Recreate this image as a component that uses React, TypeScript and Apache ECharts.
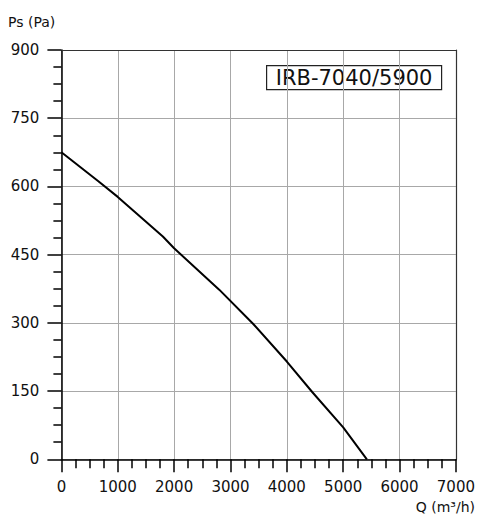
import React, { useEffect, useRef } from "react";
import * as echarts from "echarts";

const flowQ = [0, 650, 1000, 1800, 2000, 2800, 3400, 4000, 4450, 5000, 5420];
const pressurePs = [675, 612, 577, 490, 464, 373, 298, 215, 148, 70, 0];
const modelName = "IRB-7040/5900";
const xAxisTitle = "Q (m³/h)";
const yAxisTitle = "Ps (Pa)";

const FONT = "DejaVu Sans";

export default function App() {
  const ref = useRef<HTMLDivElement>(null);
  useEffect(() => {
    if (!ref.current) return;
    const chart = echarts.init(ref.current, null, { renderer: "svg" });
    const data = flowQ.map((q, i) => [q, pressurePs[i]]);
    chart.setOption({
      animation: false,
      backgroundColor: "#fff",
      grid: { left: 61.4, right: 22, top: 50, bottom: 59.7 },
      xAxis: [
        {
          type: "value",
          min: 0,
          max: 7000,
          interval: 1000,
          axisLine: { show: true, onZero: false, lineStyle: { color: "#000", width: 1.5 } },
          axisTick: { show: true, length: 13, inside: false, lineStyle: { color: "#000", width: 1.5 } },
          minorTick: { show: true, splitNumber: 4, length: 9, lineStyle: { color: "#000", width: 1.5 } },
          splitLine: { show: true, lineStyle: { color: "#a8a8a8", width: 1 } },
          axisLabel: {
            color: "#111",
            fontFamily: FONT,
            fontSize: 15,
            margin: 20,
            formatter: (v: number) => String(v),
          },
        },
        {
          type: "value",
          position: "top",
          min: 0,
          max: 7000,
          interval: 1000,
          axisLine: { show: true, onZero: false, lineStyle: { color: "#333", width: 1.2 } },
          axisTick: { show: false },
          axisLabel: { show: false },
          splitLine: { show: false },
        },
      ],
      yAxis: [
        {
          type: "value",
          min: 0,
          max: 900,
          interval: 150,
          axisLine: { show: true, onZero: false, lineStyle: { color: "#000", width: 1.5 } },
          axisTick: { show: true, length: 14, inside: false, lineStyle: { color: "#000", width: 1.5 } },
          minorTick: { show: true, splitNumber: 4, length: 8, lineStyle: { color: "#000", width: 1.5 } },
          splitLine: { show: true, lineStyle: { color: "#a8a8a8", width: 1 } },
          axisLabel: {
            color: "#111",
            fontFamily: FONT,
            fontSize: 15,
            margin: 22,
            formatter: (v: number) => String(v),
          },
        },
        {
          type: "value",
          position: "right",
          min: 0,
          max: 900,
          interval: 150,
          axisLine: { show: true, onZero: false, lineStyle: { color: "#333", width: 1.2 } },
          axisTick: { show: false },
          axisLabel: { show: false },
          splitLine: { show: false },
        },
      ],
      series: [
        {
          type: "line",
          data,
          xAxisIndex: 0,
          yAxisIndex: 0,
          showSymbol: false,
          symbol: "none",
          smooth: false,
          lineStyle: { color: "#000", width: 2 },
          z: 5,
        },
      ],
      graphic: [
        {
          type: "text",
          left: 8,
          top: 15,
          style: { text: yAxisTitle, fontFamily: FONT, fontSize: 14, fill: "#111" },
        },
        {
          type: "text",
          right: 3,
          top: 500,
          style: { text: xAxisTitle, fontFamily: FONT, fontSize: 14, fill: "#111" },
        },
        {
          type: "group",
          left: 266,
          top: 65,
          children: [
            {
              type: "rect",
              shape: { x: 0, y: 0, width: 175, height: 24 },
              style: { fill: "#fff", stroke: "#222", lineWidth: 1.2 },
            },
            {
              type: "text",
              x: 87.5,
              y: 12.5,
              style: {
                text: modelName,
                fontFamily: FONT,
                fontSize: 21,
                fill: "#111",
                align: "center",
                verticalAlign: "middle",
              },
            },
          ],
        },
      ],
    });
    return () => chart.dispose();
  }, []);
  return (
    <div
      ref={ref}
      style={{ position: "fixed", left: 0, top: 0, width: 478, height: 519, background: "#fff" }}
    />
  );
}
